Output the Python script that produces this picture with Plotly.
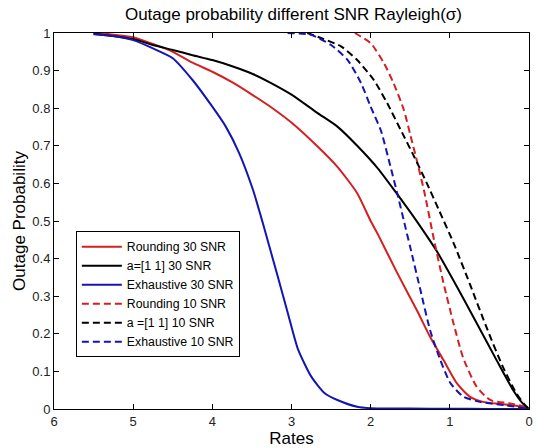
import plotly.graph_objects as go

# ---- data ----
round30_r = [5.5, 5.3, 5.0, 4.75, 4.5, 4.25, 4.0, 3.74, 3.49, 3.24, 2.99, 2.67, 2.42, 2.17, 2.0, 1.91, 1.66, 1.41, 1.25, 1.08, 0.91, 0.75, 0.58, 0.4, 0.24, 0.1, 0.0]
round30_p = [1.0, 0.997, 0.989, 0.971, 0.95, 0.921, 0.897, 0.868, 0.835, 0.80, 0.76, 0.698, 0.644, 0.574, 0.50, 0.465, 0.36, 0.26, 0.192, 0.13, 0.068, 0.033, 0.019, 0.014, 0.011, 0.006, 0.0]

a11_30_r = [5.5, 5.0, 4.75, 4.5, 4.25, 4.0, 3.74, 3.49, 3.24, 2.99, 2.67, 2.42, 2.17, 1.91, 1.66, 1.43, 1.16, 0.91, 0.66, 0.41, 0.2, 0.08, 0.0]
a11_30_p = [0.998, 0.984, 0.968, 0.955, 0.941, 0.928, 0.911, 0.891, 0.865, 0.835, 0.787, 0.751, 0.70, 0.64, 0.57, 0.503, 0.418, 0.325, 0.228, 0.13, 0.05, 0.015, 0.0]

exh30_r = [5.5, 5.25, 5.0, 4.75, 4.5, 4.25, 4.0, 3.83, 3.66, 3.49, 3.39, 3.29, 3.17, 3.04, 2.92, 2.75, 2.58, 2.42, 2.17, 2.0, 1.5, 1.0, 0.5, 0.0]
exh30_p = [0.997, 0.992, 0.981, 0.959, 0.933, 0.875, 0.804, 0.751, 0.68, 0.585, 0.515, 0.44, 0.35, 0.25, 0.16, 0.086, 0.042, 0.024, 0.006, 0.002, 0.001, 0.0005, 0.0002, 0.0]

round10_r = [2.2, 2.0, 1.83, 1.71, 1.58, 1.50, 1.41, 1.32, 1.20, 1.08, 0.95, 0.83, 0.66, 0.49, 0.24, 0.03, 0.0]
round10_p = [1.0, 0.973, 0.919, 0.866, 0.795, 0.73, 0.655, 0.575, 0.45, 0.335, 0.225, 0.135, 0.059, 0.024, 0.015, 0.005, 0.0]

a11_10_r = [2.8, 2.67, 2.37, 2.17, 1.96, 1.79, 1.62, 1.45, 1.29, 1.14, 0.95, 0.75, 0.54, 0.33, 0.16, 0.05, 0.0]
a11_10_p = [1.0, 0.99, 0.964, 0.928, 0.875, 0.813, 0.742, 0.671, 0.60, 0.53, 0.44, 0.334, 0.219, 0.112, 0.042, 0.01, 0.0]

exh10_r = [3.05, 2.75, 2.5, 2.29, 2.12, 2.0, 1.87, 1.75, 1.66, 1.58, 1.50, 1.37, 1.25, 1.12, 0.99, 0.83, 0.62, 0.3, 0.0]
exh10_p = [1.0, 0.995, 0.968, 0.928, 0.866, 0.804, 0.74, 0.645, 0.57, 0.50, 0.43, 0.315, 0.21, 0.13, 0.068, 0.033, 0.019, 0.01, 0.0]

names = ["Rounding 30 SNR", "a=[1 1] 30 SNR", "Exhaustive 30 SNR",
         "Rounding 10 SNR", "a =[1 1] 10 SNR", "Exhaustive 10 SNR"]
x_ticks = [6, 5, 4, 3, 2, 1, 0]
y_ticks = [0, 0.1, 0.2, 0.3, 0.4, 0.5, 0.6, 0.7, 0.8, 0.9, 1]

RED = "#d42020"
BLACK = "#000000"
BLUE = "#1414b4"

series = [
    (round30_r, round30_p, RED, "solid"),
    (a11_30_r, a11_30_p, BLACK, "solid"),
    (exh30_r, exh30_p, BLUE, "solid"),
    (round10_r, round10_p, RED, "7px,4px"),
    (a11_10_r, a11_10_p, BLACK, "7px,4px"),
    (exh10_r, exh10_p, BLUE, "7px,4px"),
]

fig = go.Figure()
for (xr, yp, col, dash), nm in zip(series, names):
    fig.add_trace(go.Scatter(
        x=xr, y=yp, mode="lines", name=nm,
        line=dict(color=col, width=2, dash=dash, shape="spline", smoothing=0.6),
    ))

FONT = "Liberation Sans, Arial, sans-serif"

fig.update_layout(
    width=537, height=448,
    margin=dict(l=54, r=4, t=33, b=39),
    paper_bgcolor="white", plot_bgcolor="white",
    font=dict(family=FONT, color="#000"),
    title=dict(text="Outage probability different SNR Rayleigh(σ)",
               x=0.5465, xanchor="center", y=1 - 14 / 448, yanchor="middle",
               yref="container", font=dict(size=17, family=FONT, color="#000")),
    showlegend=True,
    legend=dict(x=0.046, y=0.473, xanchor="left", yanchor="top",
                bgcolor="white", bordercolor="#000", borderwidth=1,
                font=dict(size=12.3, family=FONT, color="#000"),
                itemwidth=40, tracegroupgap=0),
)

fig.update_xaxes(
    range=[6, 0], tickvals=x_ticks, ticktext=[str(v) for v in x_ticks],
    showgrid=False, zeroline=False,
    showline=True, linecolor="#000", linewidth=1, mirror="ticks",
    ticks="inside", ticklen=5, tickcolor="#000",
    tickfont=dict(size=13, family=FONT, color="#222"),
    title=dict(text="Rates", font=dict(size=17, family=FONT, color="#000"), standoff=3),
)
fig.update_yaxes(
    range=[0, 1], tickvals=y_ticks, ticktext=[("%g" % v) for v in y_ticks],
    showgrid=False, zeroline=False,
    showline=True, linecolor="#000", linewidth=1, mirror="ticks",
    ticks="inside", ticklen=5, tickcolor="#000",
    tickfont=dict(size=13, family=FONT, color="#222"),
    title=dict(text="Outage Probability", font=dict(size=17, family=FONT, color="#000"), standoff=2),
)

fig.write_html(
    "out.html",
    config={"displayModeBar": False},
    post_script="document.body.style.margin='0px';document.body.style.overflow='hidden';",
)
